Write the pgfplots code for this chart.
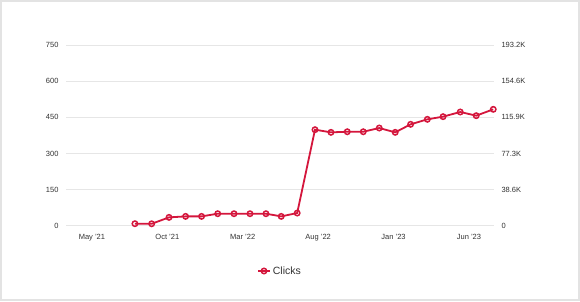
\documentclass[border=0pt]{standalone}
\usepackage{pgfplots}
\pgfplotsset{compat=1.18}
\usepackage{fontspec}
\setmainfont{Liberation Sans}
\definecolor{clk}{HTML}{D4163C}
\definecolor{gridc}{HTML}{E6E6E6}
\definecolor{txt}{HTML}{333333}
\definecolor{frame}{HTML}{E3E3E3}
\begin{document}
\begin{tikzpicture}[x=1pt,y=1pt]
\useasboundingbox (0,0) rectangle (580,301);
\fill[white] (0,0) rectangle (580,301);
\draw[frame, line width=2pt] (1,1) rectangle (578.5,300);
\pgfplotsset{
  common/.style={
    at={(66pt,75.3pt)}, anchor=south west, scale only axis,
    width=428pt, height=180.7pt,
    xmin=-1.72, xmax=26.66,
    axis line style={draw=none},
    major tick length=0pt,
    tick label style={font=\fontsize{7.5}{9}\selectfont, text=txt},
  }
}
\begin{axis}[common,
  ymin=0, ymax=750,
  ytick={0,150,300,450,600,750},
  yticklabels={0,150,300,450,600,750},
  ymajorgrids, grid style={gridc, line width=0.8pt},
  yticklabel style={xshift=-4pt},
  xtick={0,5,10,15,20,25},
  xticklabels={May '21,Oct '21,Mar '22,Aug '22,Jan '23,Jun '23},
  xticklabel style={yshift=-5.5pt},
  legend style={draw=none, fill=none, at={(0.5,-0.2507)}, anchor=center,
    font=\fontsize{10.5}{12}\selectfont, text=txt},
  legend image code/.code={\draw[mark repeat=2,mark phase=2] plot coordinates {(-6pt,0pt)(0pt,0pt)(6pt,0pt)};},
]
\addplot[clk, line width=1.8pt, mark=o, mark size=2.7pt, mark options={fill=white, line width=1.5pt}]
coordinates {
(2.85,8.3)(3.96,8)(5.11,34.6)(6.21,38.7)(7.27,38.7)(8.34,49.8)(9.42,49.8)(10.48,49.8)(11.54,49.8)(12.55,38.7)(13.61,52.6)
(14.79,398.5)(15.85,387.5)(16.93,390)(17.99,390)(19.05,405.5)(20.11,387.5)(21.13,420.8)(22.24,441.5)(23.28,452.6)(24.42,472)(25.48,456.7)(26.61,483)
};
\legend{Clicks}
\end{axis}
\begin{axis}[common,
  ymin=0, ymax=193200,
  ytick={0,38640,77280,115920,154560,193200},
  yticklabels={0,38.6K,77.3K,115.9K,154.6K,193.2K},
  yticklabel pos=right,
  yticklabel style={xshift=4pt},
  xtick=\empty,
  scaled y ticks=false,
]
\end{axis}
\end{tikzpicture}
\end{document}
